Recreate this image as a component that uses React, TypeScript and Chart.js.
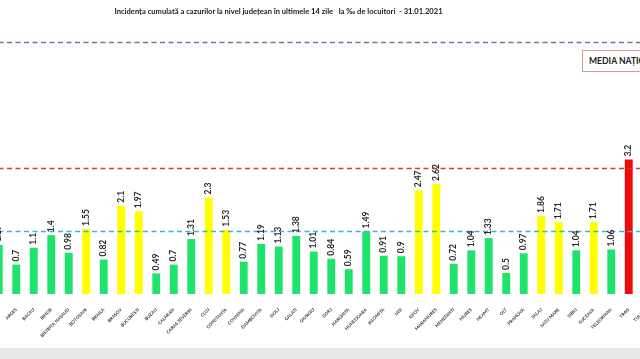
import React, { useEffect, useRef } from "react";
import { Chart, registerables } from "chart.js";

Chart.register(...registerables);

const categories = ["ARAD","ARGES","BACAU","BIHOR","BISTRITA NASAUD","BOTOSANI","BRAILA","BRASOV","BUCURESTI","BUZAU","CALARASI","CARAS SEVERIN","CLUJ","CONSTANTA","COVASNA","DAMBOVITA","DOLJ","GALATI","GIURGIU","GORJ","HARGHITA","HUNEDOARA","IALOMITA","IASI","ILFOV","MARAMURES","MEHEDINTI","MURES","NEAMT","OLT","PRAHOVA","SALAJ","SATU MARE","SIBIU","SUCEAVA","TELEORMAN","TIMIS","TULCEA"];
const values: (number | null)[] = [1.17,0.7,1.1,1.4,0.98,1.55,0.82,2.1,1.97,0.49,0.7,1.31,2.3,1.53,0.77,1.19,1.13,1.38,1.01,0.84,0.59,1.49,0.91,0.9,2.47,2.62,0.72,1.04,1.33,0.5,0.97,1.86,1.71,1.04,1.71,1.06,3.2,null];
const refValues = [6, 3, 1.5];
const refColors = ["#7a6fae", "#d23c3c", "#3fb4d2"];
const colorThresholds = [1.5, 3];
const TITLE = "Incidența cumulată a cazurilor la nivel județean în ultimele 14 zile   la ‰ de locuitori  - 31.01.2021";
const BOX_TEXT = "MEDIA NAȚIONALĂ";

function barColor(v: number | null) {
  if (v == null) return "#1fe36b";
  if (v < colorThresholds[0]) return "#1fe36b";
  if (v <= colorThresholds[1]) return "#ffff00";
  return "#f00a0a";
}

const refLinesPlugin = {
  id: "refLines",
  afterDatasetsDraw(chart: any) {
    const { ctx, chartArea, scales } = chart;
    ctx.save();
    refValues.forEach((v, i) => {
      const y = Math.round(scales.y.getPixelForValue(v)) + 0.5;
      ctx.strokeStyle = refColors[i];
      ctx.lineWidth = 1.3;
      ctx.setLineDash([5, 3.5]);
      ctx.beginPath();
      ctx.moveTo(chartArea.left, y);
      ctx.lineTo(chartArea.right, y);
      ctx.stroke();
    });
    ctx.restore();
  },
};

const valueLabelPlugin = {
  id: "valueLabels",
  afterDatasetsDraw(chart: any) {
    const { ctx } = chart;
    const meta = chart.getDatasetMeta(0);
    ctx.save();
    ctx.fillStyle = "#2a2a2a";
    ctx.font = "bold 8.5px Lato, 'DejaVu Sans', sans-serif";
    ctx.textAlign = "left";
    ctx.textBaseline = "middle";
    meta.data.forEach((el: any, i: number) => {
      const v = values[i];
      if (v == null) return;
      ctx.save();
      ctx.translate(el.x, el.y - 3);
      ctx.rotate(-Math.PI / 2);
      ctx.fillText(String(v), 0, 0);
      ctx.restore();
    });
    ctx.restore();
  },
};

export default function App() {
  const ref = useRef<HTMLCanvasElement | null>(null);
  useEffect(() => {
    document.body.style.margin = "0";
    const chart = new Chart(ref.current as HTMLCanvasElement, {
      type: "bar",
      data: {
        labels: categories,
        datasets: [
          {
            data: values as any,
            backgroundColor: values.map(barColor),
            barPercentage: 0.45,
            categoryPercentage: 1,
          },
        ],
      },
      options: {
        animation: false,
        responsive: false,
        devicePixelRatio: 1,
        layout: { padding: 0 },
        plugins: { legend: { display: false }, tooltip: { enabled: false }, title: { display: false } },
        scales: {
          x: {
            grid: { display: false },
            border: { display: false },
            ticks: {
              autoSkip: false,
              maxRotation: 45,
              minRotation: 45,
              padding: 5,
              color: "#3a3a3a",
              font: { size: 4.5, weight: "bold", family: "Lato, 'DejaVu Sans', sans-serif" },
            },
            afterFit: (scale: any) => {
              scale.height = 54;
              scale.paddingLeft = 0;
              scale.paddingRight = 0;
            },
          },
          y: { display: false, min: 0, max: 7 },
        },
      },
      plugins: [refLinesPlugin, valueLabelPlugin],
    });
    return () => chart.destroy();
  }, []);
  return (
    <div style={{ position: "fixed", left: 0, top: 0, width: 640, height: 359, overflow: "hidden", background: "#ffffff" }}>
      <canvas ref={ref} width={665} height={348} style={{ position: "absolute", left: -10, top: 0, width: 665, height: 348 }} />
      <div style={{ position: "absolute", left: 0, top: 348, width: 640, height: 11, background: "#e8e8e8" }} />
      <div style={{ position: "absolute", left: 0, top: 6, width: 557, textAlign: "center", font: "bold 7.6px Lato, 'DejaVu Sans', sans-serif", color: "#1a1a1a", whiteSpace: "pre" }}>{TITLE}</div>
      <div style={{ position: "absolute", left: 582, top: 50, width: 100, height: 22, border: "1px solid #d49a9a", boxSizing: "border-box", font: "bold 8.6px Lato, 'DejaVu Sans', sans-serif", color: "#1a1a1a", lineHeight: "20px", paddingLeft: 6, whiteSpace: "nowrap", background: "#fff" }}>{BOX_TEXT}</div>
    </div>
  );
}
